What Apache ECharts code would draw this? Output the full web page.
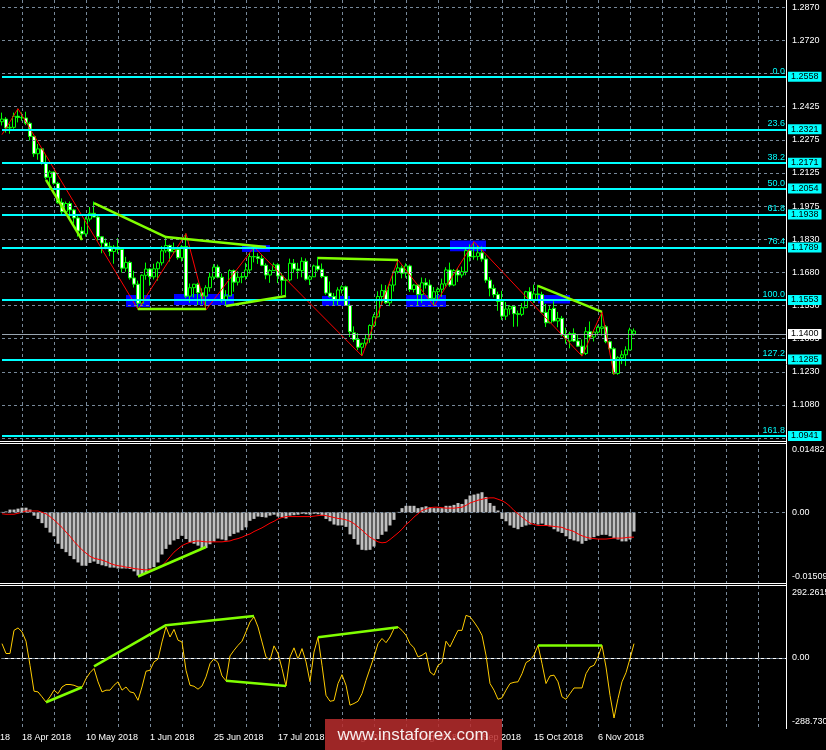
<!DOCTYPE html>
<html><head><meta charset="utf-8">
<script src="https://cdn.jsdelivr.net/npm/echarts@6/dist/echarts.min.js"></script>
<style>html,body{margin:0;padding:0;background:#000;}#c{width:826px;height:750px;}</style>
</head><body><div id="c"></div>
<script>
// ---------- DATA ----------
// daily candles [open, high, low, close], index 0 = first bar on the chart
const ohlc = [
[1.2355,1.2396,1.2338,1.2367],[1.2367,1.2376,1.2306,1.2327],[1.2327,1.2346,1.2301,1.2330],[1.2330,1.2396,1.2323,1.2380],[1.2380,1.2414,1.2352,1.2374],
[1.2374,1.2397,1.2359,1.2372],[1.2372,1.2400,1.2340,1.2348],[1.2348,1.2355,1.2271,1.2289],[1.2289,1.2290,1.2197,1.2211],[1.2211,1.2255,1.2184,1.2233],
[1.2233,1.2238,1.2162,1.2167],[1.2167,1.2208,1.2095,1.2105],[1.2105,1.2137,1.2055,1.2129],[1.2129,1.2130,1.2072,1.2078],[1.2078,1.2085,1.1986,1.1991],
[1.1991,1.2010,1.1938,1.1950],[1.1950,1.1996,1.1937,1.1987],[1.1987,1.1996,1.1910,1.1958],[1.1958,1.1963,1.1897,1.1922],[1.1922,1.1938,1.1838,1.1863],
[1.1863,1.1882,1.1822,1.1850],[1.1850,1.1927,1.1838,1.1917],[1.1917,1.1971,1.1906,1.1943],[1.1943,1.1996,1.1926,1.1926],[1.1926,1.1935,1.1820,1.1837],
[1.1837,1.1840,1.1763,1.1809],[1.1809,1.1830,1.1781,1.1794],[1.1794,1.1813,1.1750,1.1771],[1.1771,1.1800,1.1716,1.1791],[1.1791,1.1832,1.1761,1.1780],
[1.1780,1.1782,1.1676,1.1696],[1.1696,1.1747,1.1680,1.1722],[1.1722,1.1729,1.1644,1.1652],[1.1652,1.1684,1.1609,1.1624],[1.1624,1.1640,1.1510,1.1538],
[1.1538,1.1668,1.1530,1.1664],[1.1664,1.1721,1.1644,1.1692],[1.1692,1.1696,1.1617,1.1657],[1.1657,1.1716,1.1645,1.1693],[1.1693,1.1727,1.1640,1.1720],
[1.1720,1.1796,1.1708,1.1774],[1.1774,1.1840,1.1765,1.1798],[1.1798,1.1802,1.1726,1.1770],[1.1770,1.1811,1.1761,1.1780],[1.1780,1.1795,1.1734,1.1743],
[1.1743,1.1800,1.1726,1.1793],[1.1793,1.1852,1.1561,1.1570],[1.1570,1.1627,1.1541,1.1608],[1.1608,1.1625,1.1564,1.1624],[1.1624,1.1630,1.1530,1.1585],
[1.1585,1.1605,1.1534,1.1570],[1.1570,1.1619,1.1508,1.1608],[1.1608,1.1676,1.1590,1.1656],[1.1656,1.1714,1.1643,1.1701],[1.1701,1.1712,1.1650,1.1655],
[1.1655,1.1672,1.1541,1.1554],[1.1554,1.1597,1.1527,1.1571],[1.1571,1.1691,1.1568,1.1685],[1.1685,1.1690,1.1590,1.1633],[1.1633,1.1682,1.1618,1.1655],
[1.1655,1.1677,1.1628,1.1658],[1.1658,1.1720,1.1644,1.1688],[1.1688,1.1765,1.1671,1.1748],[1.1748,1.1791,1.1722,1.1747],[1.1747,1.1763,1.1715,1.1740],
[1.1740,1.1755,1.1705,1.1709],[1.1709,1.1718,1.1646,1.1665],[1.1665,1.1692,1.1630,1.1685],[1.1685,1.1721,1.1685,1.1711],[1.1711,1.1718,1.1629,1.1661],
[1.1661,1.1674,1.1575,1.1641],[1.1641,1.1651,1.1575,1.1643],[1.1643,1.1739,1.1636,1.1718],[1.1718,1.1737,1.1675,1.1692],[1.1692,1.1720,1.1648,1.1685],
[1.1685,1.1745,1.1655,1.1727],[1.1727,1.1740,1.1640,1.1646],[1.1646,1.1665,1.1620,1.1657],[1.1657,1.1712,1.1656,1.1706],[1.1706,1.1747,1.1681,1.1691],
[1.1691,1.1717,1.1651,1.1658],[1.1658,1.1661,1.1576,1.1584],[1.1584,1.1636,1.1563,1.1568],[1.1568,1.1584,1.1530,1.1551],[1.1551,1.1610,1.1530,1.1598],
[1.1598,1.1619,1.1582,1.1612],[1.1612,1.1617,1.1528,1.1528],[1.1528,1.1535,1.1386,1.1410],[1.1405,1.1434,1.1364,1.1375],[1.1375,1.1404,1.1327,1.1340],
[1.1340,1.1350,1.1301,1.1358],[1.1358,1.1400,1.1340,1.1378],[1.1378,1.1443,1.1360,1.1438],[1.1438,1.1490,1.1431,1.1477],[1.1477,1.1592,1.1474,1.1568],
[1.1568,1.1623,1.1526,1.1595],[1.1595,1.1620,1.1535,1.1540],[1.1540,1.1627,1.1525,1.1620],[1.1620,1.1686,1.1591,1.1680],[1.1680,1.1733,1.1672,1.1697],
[1.1697,1.1708,1.1650,1.1673],[1.1673,1.1718,1.1653,1.1706],[1.1706,1.1712,1.1589,1.1600],[1.1600,1.1625,1.1587,1.1620],[1.1620,1.1624,1.1529,1.1577],
[1.1577,1.1654,1.1540,1.1630],[1.1630,1.1651,1.1604,1.1620],[1.1620,1.1644,1.1548,1.1560],[1.1560,1.1611,1.1526,1.1590],[1.1590,1.1610,1.1555,1.1601],
[1.1601,1.1649,1.1567,1.1625],[1.1625,1.1700,1.1613,1.1688],[1.1688,1.1721,1.1612,1.1620],[1.1620,1.1692,1.1615,1.1685],[1.1685,1.1696,1.1634,1.1665],
[1.1665,1.1703,1.1653,1.1680],[1.1680,1.1788,1.1664,1.1775],[1.1775,1.1803,1.1726,1.1747],[1.1747,1.1815,1.1734,1.1749],[1.1749,1.1797,1.1731,1.1765],
[1.1765,1.1794,1.1725,1.1737],[1.1737,1.1753,1.1630,1.1642],[1.1642,1.1656,1.1569,1.1605],[1.1605,1.1622,1.1564,1.1577],[1.1577,1.1590,1.1504,1.1546],
[1.1546,1.1594,1.1463,1.1480],[1.1480,1.1544,1.1463,1.1512],[1.1512,1.1530,1.1486,1.1524],[1.1524,1.1527,1.1432,1.1491],[1.1491,1.1505,1.1433,1.1488],
[1.1488,1.1539,1.1480,1.1518],[1.1518,1.1594,1.1515,1.1590],[1.1590,1.1610,1.1548,1.1555],[1.1555,1.1622,1.1540,1.1580],[1.1580,1.1621,1.1556,1.1577],
[1.1577,1.1590,1.1494,1.1497],[1.1497,1.1535,1.1431,1.1450],[1.1450,1.1529,1.1448,1.1510],[1.1515,1.1547,1.1453,1.1458],[1.1458,1.1499,1.1430,1.1470],
[1.1470,1.1481,1.1389,1.1395],[1.1395,1.1428,1.1356,1.1380],[1.1368,1.1410,1.1335,1.1402],[1.1402,1.1425,1.1364,1.1368],[1.1368,1.1399,1.1341,1.1345],
[1.1345,1.1375,1.1300,1.1312],[1.1312,1.1431,1.1305,1.1410],[1.1410,1.1456,1.1375,1.1386],[1.1386,1.1417,1.1366,1.1408],[1.1408,1.1438,1.1393,1.1430],
[1.1425,1.1499,1.1392,1.1432],[1.1432,1.1440,1.1358,1.1365],[1.1365,1.1370,1.1320,1.1333],[1.1333,1.1340,1.1216,1.1222],[1.1222,1.1300,1.1216,1.1293],
[1.1293,1.1325,1.1264,1.1306],[1.1306,1.1344,1.1256,1.1328],[1.1328,1.1428,1.1325,1.1418],[1.1400,1.1425,1.1392,1.1413]
];
const macdHist = [
0.0001,0.0002,0.0006,0.0006,0.0008,0.0010,0.0010,0.0006,-0.0007,-0.0014,
-0.0023,-0.0033,-0.0043,-0.0051,-0.0067,-0.0078,-0.0085,-0.0093,-0.0100,-0.0107,
-0.0114,-0.0114,-0.0108,-0.0105,-0.0110,-0.0113,-0.0115,-0.0118,-0.0118,-0.0120,
-0.0120,-0.0120,-0.0121,-0.0126,-0.0135,-0.0133,-0.0128,-0.0120,-0.0117,-0.0107,
-0.0090,-0.0078,-0.0069,-0.0060,-0.0057,-0.0050,-0.0057,-0.0064,-0.0067,-0.0071,
-0.0076,-0.0076,-0.0068,-0.0062,-0.0056,-0.0058,-0.0060,-0.0051,-0.0046,-0.0043,
-0.0038,-0.0032,-0.0018,-0.0014,-0.0009,-0.0010,-0.0011,-0.0007,-0.0005,-0.0009,
-0.0011,-0.0013,-0.0007,-0.0006,-0.0005,-0.0003,-0.0004,-0.0005,-0.0003,-0.0004,
-0.0007,-0.0014,-0.0019,-0.0026,-0.0028,-0.0028,-0.0031,-0.0047,-0.0057,-0.0069,
-0.0080,-0.0081,-0.0080,-0.0073,-0.0057,-0.0048,-0.0041,-0.0028,-0.0016,0.0001,
0.0009,0.0014,0.0014,0.0014,0.0009,0.0011,0.0013,0.0011,0.0009,0.0009,
0.0009,0.0014,0.0014,0.0016,0.0020,0.0018,0.0028,0.0036,0.0038,0.0040,
0.0043,0.0033,0.0020,0.0014,0.0004,-0.0014,-0.0019,-0.0028,-0.0033,-0.0036,
-0.0031,-0.0028,-0.0026,-0.0023,-0.0026,-0.0024,-0.0028,-0.0030,-0.0036,-0.0041,
-0.0044,-0.0051,-0.0057,-0.0060,-0.0062,-0.0067,-0.0061,-0.0058,-0.0053,-0.0050,
-0.0048,-0.0048,-0.0051,-0.0055,-0.0058,-0.0062,-0.0062,-0.0058,-0.0041
];
const macdSignal = [
-0.0003,-0.0004,-0.0004,-0.0004,-0.0002,0.0000,0.0003,0.0003,0.0003,0.0003,
0.0000,-0.0003,-0.0009,-0.0016,-0.0024,-0.0032,-0.0042,-0.0051,-0.0062,-0.0071,
-0.0080,-0.0087,-0.0094,-0.0098,-0.0100,-0.0102,-0.0105,-0.0109,-0.0112,-0.0114,
-0.0115,-0.0117,-0.0118,-0.0120,-0.0121,-0.0122,-0.0123,-0.0122,-0.0121,-0.0119,
-0.0114,-0.0105,-0.0095,-0.0085,-0.0078,-0.0071,-0.0067,-0.0064,-0.0062,-0.0061,
-0.0062,-0.0063,-0.0063,-0.0063,-0.0063,-0.0063,-0.0062,-0.0061,-0.0058,-0.0056,
-0.0053,-0.0049,-0.0046,-0.0041,-0.0037,-0.0033,-0.0028,-0.0023,-0.0019,-0.0014,
-0.0011,-0.0009,-0.0009,-0.0009,-0.0009,-0.0009,-0.0009,-0.0009,-0.0008,-0.0007,
-0.0006,-0.0007,-0.0009,-0.0011,-0.0013,-0.0014,-0.0016,-0.0019,-0.0024,-0.0031,
-0.0038,-0.0046,-0.0053,-0.0058,-0.0063,-0.0065,-0.0064,-0.0058,-0.0051,-0.0044,
-0.0036,-0.0026,-0.0019,-0.0010,-0.0003,0.0004,0.0007,0.0010,0.0011,0.0011,
0.0010,0.0009,0.0009,0.0009,0.0010,0.0011,0.0015,0.0020,0.0023,0.0026,
0.0028,0.0030,0.0031,0.0031,0.0028,0.0025,0.0020,0.0013,0.0004,-0.0003,
-0.0010,-0.0017,-0.0023,-0.0026,-0.0028,-0.0028,-0.0028,-0.0029,-0.0030,-0.0031,
-0.0032,-0.0036,-0.0038,-0.0041,-0.0046,-0.0050,-0.0053,-0.0055,-0.0056,-0.0057,
-0.0057,-0.0057,-0.0056,-0.0055,-0.0055,-0.0055,-0.0054,-0.0053,-0.0053
];
const cci = [
58,18,18,112,122,106,68,-30,-135,-138,
-158,-179,-158,-131,-145,-118,-108,-108,-111,-118,
-119,-84,-60,-43,-97,-138,-131,-131,-111,-97,
-131,-118,-138,-142,-172,-118,-54,-50,-16,-5,
65,126,85,116,72,65,-50,-111,-115,-127,
-114,-77,-23,-3,-19,-73,-93,8,31,51,
68,106,146,167,126,65,4,-9,49,18,
-43,-114,4,41,-5,38,-16,-97,24,84,
-30,-152,-176,-173,-104,-68,-111,-192,-185,-176,
-145,-91,-43,4,58,79,62,85,119,126,
112,92,58,41,4,11,22,-57,-70,-30,
-19,68,45,79,112,112,173,167,146,122,
92,11,-104,-131,-168,-162,-131,-104,-99,-97,
-64,-19,-9,11,51,-23,-104,-73,-70,-97,
-158,-168,-145,-122,-122,-122,-64,-37,-30,4,
51,-37,-152,-244,-165,-97,-60,-3,58
];
// ZigZag swing points [bar index, price]
const zigzag = [[0,1.2297],[4,1.2414],[34,1.1510],[46,1.1852],[51,1.1508],[63,1.1791],[90,1.1301],[99,1.1733],[108,1.1526],[118,1.1815],[145,1.1300],[150,1.1499],[153,1.1216]];
// blue zones [fromBar, toBar, lowPrice, highPrice]
const supplyZones = [[31,37,1.1521,1.1575],[43,58,1.1530,1.1580],[60,67,1.1769,1.1800],[80,87,1.1526,1.1571],[101,111,1.1521,1.1575],[112,121,1.1772,1.1820],[134,142,1.1537,1.1575]];
// green trend lines (each a polyline of [bar, value])
const priceTrendLines = [
  [[11,1.2093],[20,1.1823]],
  [[23,1.1989],[41,1.1836],[66,1.1791]],
  [[34,1.1512],[51,1.1512]],
  [[56,1.1526],[71,1.1571]],
  [[79,1.1742],[99,1.1733]],
  [[134,1.1616],[150,1.1499]]
];
const macdTrendLines = [[[34,-0.0137],[51,-0.0074]]];
const cciTrendLines = [
  [[11,-180],[20,-119]],
  [[23,-34],[41,133],[63,170]],
  [[56,-93],[71,-114]],
  [[79,84],[99,125]],
  [[134,51],[150,51]]
];
// Fibonacci levels
const fibPrices = [1.2558,1.2321,1.2171,1.2054,1.1938,1.1789,1.1553,1.1285,1.0941];
const fibNames = ['0.0','23.6','38.2','50.0','61.8','76.4','100.0','127.2','161.8'];
const fibPriceLabels = ['1.2558','1.2321','1.2171','1.2054','1.1938','1.1789','1.1553','1.1285','1.0941'];
const levelPrice = 1.1400;
const levelLabel = '1.1400';
// axis ticks
const priceTicks = [1.28701,1.27210,1.25718,1.24226,1.22735,1.21243,1.19752,1.18260,1.16768,1.15277,1.13785,1.12294,1.10802,1.09310];
const priceTickLabels = ['1.2870','1.2720','','1.2425','1.2275','1.2125','1.1975','1.1830','1.1680','1.1530','1.1385','1.1230','1.1080','1.0935'];
const macdTicks = [0.01482, 0, -0.01509];
const macdTickLabels = ['0.01482','0.00','-0.01509'];
const cciTicks = [292.2615, 0, -288.730];
const cciTickLabels = ['292.2615','0.00','-288.730'];
const dateLabels = ['18 Apr 2018','10 May 2018','1 Jun 2018','25 Jun 2018','17 Jul 2018','8 Aug 2018','30 Aug 2018','21 Sep 2018','15 Oct 2018','6 Nov 2018'];

// ---------- CHART ----------
const SLOTS = 197, FIRST_LABEL = 5, LABEL_STEP = 16, GRID_STEP = 8;
const FONT = '"Liberation Sans", Arial, sans-serif';
const GRIDC = '#778899', GREEN = '#80ff00', CLEAR = 'rgba(0,0,0,0)';
const cats = Array.from({length: SLOTS}, (_, i) => String(i));
const isGridBar = i => i >= FIRST_LABEL && (i - FIRST_LABEL) % GRID_STEP === 0;
const labelAt = i => { const k = (i - FIRST_LABEL) / LABEL_STEP; return (Number.isInteger(k) && k >= 0 && k < dateLabels.length) ? dateLabels[k] : ''; };

const xAxes = [0,1,2].map(g => ({
  type:'category', gridIndex:g, data:cats, boundaryGap:false,
  axisLine:{show: g === 2, lineStyle:{color:'#ffffff', width:1}},
  axisTick:{show: g === 2, inside:true, length:5, interval:(i) => isGridBar(i), lineStyle:{color:'#c8c8c8'}},
  axisLabel:{show: g === 2, interval:(i) => labelAt(i) !== '', formatter:(v, i) => labelAt(i), align:'left', color:'#ffffff', fontSize:9, fontFamily:FONT, margin:4},
  splitLine:{show:true, interval:(i) => isGridBar(i), lineStyle:{color:GRIDC, type:[3,3], width:1}}
}));
const yBase = {type:'value', position:'right', axisLine:{show:false}, axisTick:{show:false}, axisLabel:{show:false}, splitLine:{show:false}};
const yAxes = [
  Object.assign({gridIndex:0, min:1.0918, max:1.2903}, yBase),
  Object.assign({gridIndex:1, min:-0.01509, max:0.01482}, yBase),
  Object.assign({gridIndex:2, min:-288.730, max:292.2615}, yBase)
];
const tickLabel = {position:'end', distance:6, color:'#ffffff', fontSize:9, fontFamily:FONT, formatter:'{b}'};
const ML = {silent:true, symbol:['none','none'], precision:6};
const series = [];
const ax = g => ({xAxisIndex:g, yAxisIndex:g});

series.push(Object.assign({type:'line', data:[], z:0, silent:true,
  markArea:{silent:true, itemStyle:{color:'#0000ff'},
    data: supplyZones.map(z => [{xAxis:z[0], yAxis:z[3]}, {xAxis:z[1], yAxis:z[2]}])}}, ax(0)));
series.push(Object.assign({type:'line', data:[], z:1, silent:true,
  markLine:Object.assign({lineStyle:{color:GRIDC, type:[3,3], width:1}, label:tickLabel,
    data: priceTicks.map((v,k) => ({yAxis:v, name:priceTickLabels[k]}))}, ML)}, ax(0)));
series.push(Object.assign({type:'candlestick', z:2, barWidth:3,
  data: ohlc.map(d => [d[0], d[3], d[2], d[1]]),
  itemStyle:{color:'#000000', color0:'#ffffff', borderColor:'#00ff00', borderColor0:'#00ff00', borderWidth:1}}, ax(0)));
series.push(Object.assign({type:'line', z:3, data:zigzag, symbol:'none', silent:true,
  lineStyle:{color:'#ff0000', width:1}}, ax(0)));
series.push(Object.assign({type:'line', data:[], z:4, silent:true,
  markLine:Object.assign({lineStyle:{color:'#00ffff', width:2, type:'solid'},
    label:{position:'insideEndTop', distance:[1,1], color:'#00ffff', fontSize:9, fontFamily:FONT, formatter:'{b}'},
    data: fibPrices.map((v,k) => ({yAxis:v, name:fibNames[k]}))}, ML)}, ax(0)));
series.push(Object.assign({type:'line', data:[], z:4, silent:true,
  markLine:Object.assign({lineStyle:{color:'#9aa6b2', width:1, type:'solid'}, label:{show:false},
    data:[{yAxis:levelPrice}]}, ML)}, ax(0)));
priceTrendLines.forEach(pts => series.push(Object.assign({type:'line', z:5, data:pts, symbol:'none', silent:true,
  lineStyle:{color:GREEN, width:2.5}}, ax(0))));
series.push(Object.assign({type:'line', data:[], z:6, silent:true,
  markLine:Object.assign({lineStyle:{color:CLEAR, width:1},
    label:{position:'end', distance:2, backgroundColor:'#00ffff', color:'#000000', padding:[1,3,0,3], fontSize:9, fontFamily:FONT, formatter:'{b}'},
    data: fibPrices.map((v,k) => ({yAxis:v, name:fibPriceLabels[k]}))
      .concat([{yAxis:levelPrice, name:levelLabel, label:{backgroundColor:'#ffffff'}}])}, ML)}, ax(0)));

// MACD
series.push(Object.assign({type:'line', data:[], z:1, silent:true,
  markLine:Object.assign({lineStyle:{color:GRIDC, type:[3,3], width:1}, label:tickLabel,
    data: macdTicks.map((v,k) => v === 0 ? {yAxis:v, name:macdTickLabels[k]} :
      {yAxis:v, name:macdTickLabels[k], lineStyle:{color:CLEAR}, label:{offset:[0, v > 0 ? 7 : -6]}})}, ML)}, ax(1)));
series.push(Object.assign({type:'bar', z:2, data:macdHist, barWidth:3, silent:true, itemStyle:{color:'#c0c0c0'}}, ax(1)));
series.push(Object.assign({type:'line', z:3, data:macdSignal, symbol:'none', silent:true, lineStyle:{color:'#ff0000', width:1}}, ax(1)));
macdTrendLines.forEach(pts => series.push(Object.assign({type:'line', z:5, data:pts, symbol:'none', silent:true, lineStyle:{color:GREEN, width:2.5}}, ax(1))));

// CCI
series.push(Object.assign({type:'line', data:[], z:1, silent:true,
  markLine:Object.assign({lineStyle:{color:GRIDC, type:[3,3], width:1}, label:tickLabel,
    data: cciTicks.map((v,k) => v === 0 ? {yAxis:v, name:cciTickLabels[k]} :
      {yAxis:v, name:cciTickLabels[k], lineStyle:{color:CLEAR}, label:{offset:[0, v > 0 ? 7 : -7]}})}, ML)}, ax(2)));
series.push(Object.assign({type:'line', z:3, data:cci, symbol:'none', silent:true, lineStyle:{color:'#ffcc00', width:1}}, ax(2)));
cciTrendLines.forEach(pts => series.push(Object.assign({type:'line', z:5, data:pts, symbol:'none', silent:true, lineStyle:{color:GREEN, width:2.5}}, ax(2))));

const chart = echarts.init(document.getElementById('c'), null, {renderer:'canvas'});
chart.setOption({
  backgroundColor:'#000000',
  animation:false,
  grid:[
    {left:2, top:0, width:784, height:441},
    {left:2, top:443, width:784, height:140},
    {left:2, top:586, width:784, height:143}
  ],
  xAxis:xAxes,
  yAxis:yAxes,
  series:series,
  graphic:[
    {type:'line', shape:{x1:0,y1:441.5,x2:786,y2:441.5}, style:{stroke:'#ffffff', lineWidth:1}, z:50},
    {type:'line', shape:{x1:0,y1:443.5,x2:786,y2:443.5}, style:{stroke:'#ffffff', lineWidth:1}, z:50},
    {type:'line', shape:{x1:0,y1:583.5,x2:786,y2:583.5}, style:{stroke:'#ffffff', lineWidth:1}, z:50},
    {type:'line', shape:{x1:0,y1:585.5,x2:786,y2:585.5}, style:{stroke:'#ffffff', lineWidth:1}, z:50},
    {type:'line', shape:{x1:786.5,y1:0,x2:786.5,y2:729}, style:{stroke:'#ffffff', lineWidth:1}, z:50},
    {type:'text', style:{text:'18', x:0, y:733, fill:'#ffffff', font:'9px "Liberation Sans"'}, z:50},
    {type:'rect', shape:{x:325, y:719, width:177, height:31}, style:{fill:'rgba(185,45,45,0.85)'}, z:100},
    {type:'text', style:{text:'www.instaforex.com', x:413, y:735, align:'center', verticalAlign:'middle', textAlign:'center', textVerticalAlign:'middle', fill:'rgba(255,255,255,0.92)', font:'17px "Liberation Sans"'}, z:101}
  ]
});
</script>
</body></html>
